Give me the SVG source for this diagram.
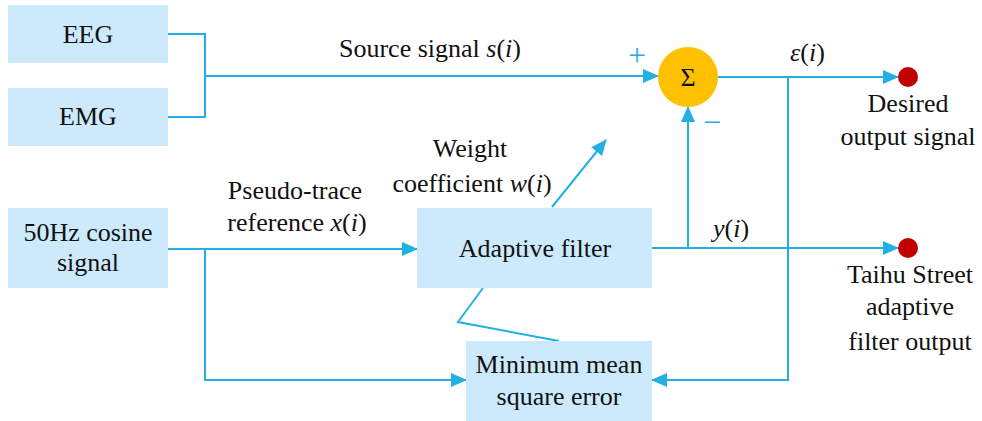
<svg xmlns="http://www.w3.org/2000/svg" width="982" height="421" viewBox="0 0 982 421" font-family="'Liberation Serif', 'DejaVu Serif', serif">
<style>
text{font-family:'Liberation Serif','DejaVu Serif',serif}
.box{fill:#cceafb;stroke:none}
.ln{fill:none;stroke:#22b0e3;stroke-width:2}
.t{font-size:26px;fill:#111;text-anchor:middle}
.ts{font-size:26px;fill:#111}
.it{font-style:italic}
.sg{font-size:32px;fill:#22b0e3;text-anchor:middle}
</style>
<defs>
<marker id="ah" markerUnits="userSpaceOnUse" markerWidth="16" markerHeight="14" refX="15" refY="7" orient="auto">
<path d="M0,0 L16,7 L0,14 Z" fill="#22b0e3"/>
</marker>
</defs>
<rect width="982" height="421" fill="#fff"/>
<g id="connectors">
<path class="ln" d="M168,34 H205 V117 H168"/>
<path class="ln" d="M205,76 H658" marker-end="url(#ah)"/>
<path class="ln" d="M168,249 H417" marker-end="url(#ah)"/>
<path class="ln" d="M205,249 V380 H466" marker-end="url(#ah)"/>
<path class="ln" d="M652,248 H898" marker-end="url(#ah)"/>
<path class="ln" d="M688,248 V107" marker-end="url(#ah)"/>
<path class="ln" d="M718,77 H898" marker-end="url(#ah)"/>
<path class="ln" d="M788,77 V380 H652" marker-end="url(#ah)"/>
<path class="ln" d="M552,207 L606,140" marker-end="url(#ah)"/>
<path class="ln" d="M483,288 L458,322 L559,341"/>
</g>
<g id="eeg">
<rect class="box" x="8" y="5" width="160" height="58"/>
<text class="t" x="88" y="43">EEG</text>
</g>
<g id="emg">
<rect class="box" x="8" y="88" width="160" height="58"/>
<text class="t" x="88" y="125">EMG</text>
</g>
<g id="cosine">
<rect class="box" x="8" y="208" width="160" height="80"/>
<text class="t" x="88" y="241">50Hz cosine</text>
<text class="t" x="88" y="271">signal</text>
</g>
<g id="adaptive">
<rect class="box" x="417" y="208" width="235" height="80"/>
<text class="t" x="535" y="257">Adaptive filter</text>
</g>
<g id="mmse">
<rect class="box" x="466" y="341" width="186" height="80"/>
<text class="t" x="559" y="373">Minimum mean</text>
<text class="t" x="559" y="405">square error</text>
</g>
<g id="sum">
<circle cx="688" cy="77" r="30" fill="#ffc000"/>
<text class="t" x="688" y="86" style="font-size:26px">Σ</text>
<text class="sg" x="637" y="66">+</text>
<text class="sg" x="712" y="133">−</text>
</g>
<g id="desired">
<circle cx="908" cy="77" r="10" fill="#c00000"/>
<text class="t" x="908" y="112">Desired</text>
<text class="t" x="908" y="145">output signal</text>
</g>
<g id="taihu">
<circle cx="908" cy="248" r="10" fill="#c00000"/>
<text class="t" x="910" y="283">Taihu Street</text>
<text class="t" x="910" y="315">adaptive</text>
<text class="t" x="910" y="350">filter output</text>
</g>
<g id="labels">
<text class="t" x="430" y="57">Source signal <tspan class="it">s</tspan>(<tspan class="it">i</tspan>)</text>
<text class="t" x="470" y="157">Weight</text>
<text class="t" x="472" y="192">coefficient <tspan class="it">w</tspan>(<tspan class="it">i</tspan>)</text>
<text class="t" x="295" y="199">Pseudo-trace</text>
<text class="t" x="297" y="231">reference <tspan class="it">x</tspan>(<tspan class="it">i</tspan>)</text>
<text class="ts" x="790" y="61"><tspan class="it">ε</tspan>(<tspan class="it">i</tspan>)</text>
<text class="ts" x="713" y="237"><tspan class="it">y</tspan>(<tspan class="it">i</tspan>)</text>
</g>
</svg>
